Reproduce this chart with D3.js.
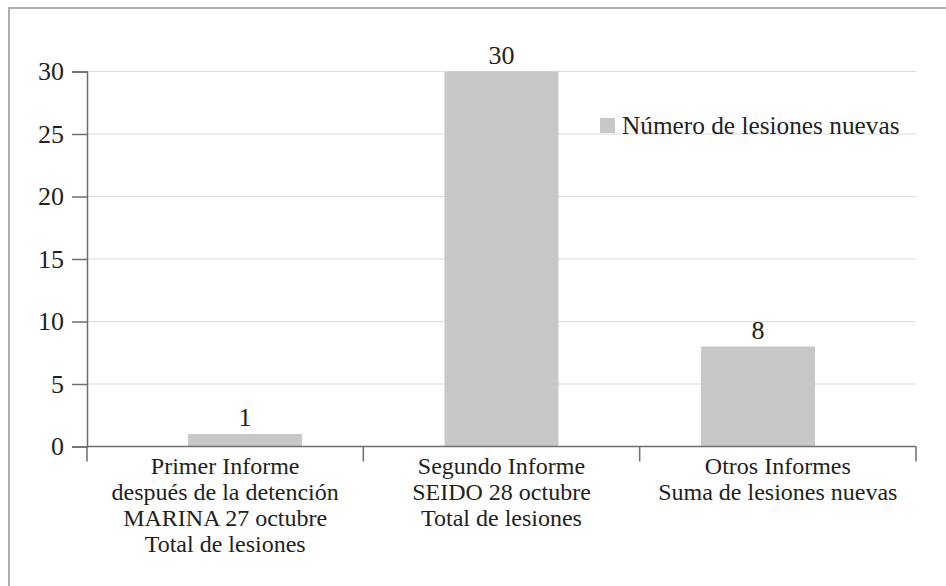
<!DOCTYPE html>
<html>
<head>
<meta charset="utf-8">
<script src="https://cdn.jsdelivr.net/npm/d3@7"></script>
<style>
  html, body { margin: 0; padding: 0; background: #fff; }
  svg { display: block; }
  text { font-family: "Liberation Serif", "Times New Roman", serif; fill: #231f20; }
</style>
</head>
<body>
<svg id="chart" width="946" height="586"></svg>
<script>
const categories = [
  ["Primer Informe", "después de la detención", "MARINA 27 octubre", "Total de lesiones"],
  ["Segundo Informe", "SEIDO 28 octubre", "Total de lesiones"],
  ["Otros Informes", "Suma de lesiones nuevas"]
];
const values = [1, 30, 8];
const seriesName = "Número de lesiones nuevas";
const yTicks = [0, 5, 10, 15, 20, 25, 30];

(function () {
const svg = d3.select("#chart");
const labelSize = 24, numSize = 26, legendSize = 25.3;

// outer frame
svg.append("rect").attr("x", 9).attr("y", 8).attr("width", 1200).attr("height", 1200)
  .attr("fill", "none").attr("stroke", "#b0b0b0").attr("stroke-width", 2);

const pLeft = 87, pRight = 916, pTop = 71.5, pBottom = 446.5;
const keys = categories.map((c, i) => i);

const y = d3.scaleLinear().domain([0, 30]).range([pBottom, pTop]);
const xAxisScale = d3.scaleBand().domain(keys).range([pLeft, pRight]).padding(0);
const xBar = d3.scaleBand().domain(keys).range([116.75, 886.25])
  .paddingInner(0.5556).paddingOuter(0.2778);

// gridlines
svg.append("g").selectAll("line").data(yTicks.filter(t => t > 0)).join("line")
  .attr("x1", pLeft).attr("x2", pRight)
  .attr("y1", d => y(d)).attr("y2", d => y(d))
  .attr("stroke", "#dcdcdc").attr("stroke-width", 1.2);

// bars
svg.append("g").selectAll("rect").data(values).join("rect")
  .attr("x", (d, i) => xBar(i)).attr("width", xBar.bandwidth())
  .attr("y", d => y(d)).attr("height", d => y(0) - y(d))
  .attr("fill", "#c7c8ca");

// value labels
svg.append("g").selectAll("text").data(values).join("text")
  .attr("x", (d, i) => xBar(i) + xBar.bandwidth() / 2)
  .attr("y", d => y(d) - 8)
  .attr("text-anchor", "middle").attr("font-size", numSize)
  .text(d => d);

// y axis
const yAxis = svg.append("g").attr("transform", `translate(${pLeft},0)`)
  .call(d3.axisLeft(y).tickValues(yTicks).tickSize(15).tickPadding(8).tickFormat(d3.format("d")));
yAxis.select(".domain").attr("stroke", "#6d6e70").attr("stroke-width", 1.5);
yAxis.selectAll(".tick line").attr("stroke", "#6d6e70").attr("stroke-width", 1.5);
yAxis.selectAll(".tick text").attr("font-size", numSize)
  .attr("font-family", "Liberation Serif, serif").attr("fill", "#231f20");

// x axis
const xg = svg.append("g").attr("transform", `translate(0,${pBottom})`);
xg.append("line").attr("x1", pLeft).attr("x2", pRight).attr("y1", 0).attr("y2", 0)
  .attr("stroke", "#6d6e70").attr("stroke-width", 1.5);
const boundaries = keys.map(k => xAxisScale(k)).concat([pRight]);
xg.selectAll("line.tk").data(boundaries).join("line").attr("class", "tk")
  .attr("x1", d => d).attr("x2", d => d).attr("y1", 0).attr("y2", 15)
  .attr("stroke", "#6d6e70").attr("stroke-width", 1.5);

// category labels
const lab = svg.append("g").selectAll("text").data(categories).join("text")
  .attr("text-anchor", "middle").attr("font-size", labelSize)
  .attr("x", (d, i) => xAxisScale(i) + xAxisScale.bandwidth() / 2)
  .attr("y", pBottom + 27);
lab.selectAll("tspan").data((d, i) => d.map(s => ({ s, i }))).join("tspan")
  .attr("x", d => xAxisScale(d.i) + xAxisScale.bandwidth() / 2)
  .attr("dy", (d, j) => j === 0 ? 0 : 26.2)
  .text(d => d.s);

// legend
const lg = svg.append("g").attr("transform", "translate(600,118)");
lg.append("rect").attr("width", 15).attr("height", 15).attr("fill", "#c7c8ca");
lg.append("text").attr("x", 22).attr("y", 15.5).attr("font-size", legendSize).text(seriesName);
})();
</script>
</body>
</html>
